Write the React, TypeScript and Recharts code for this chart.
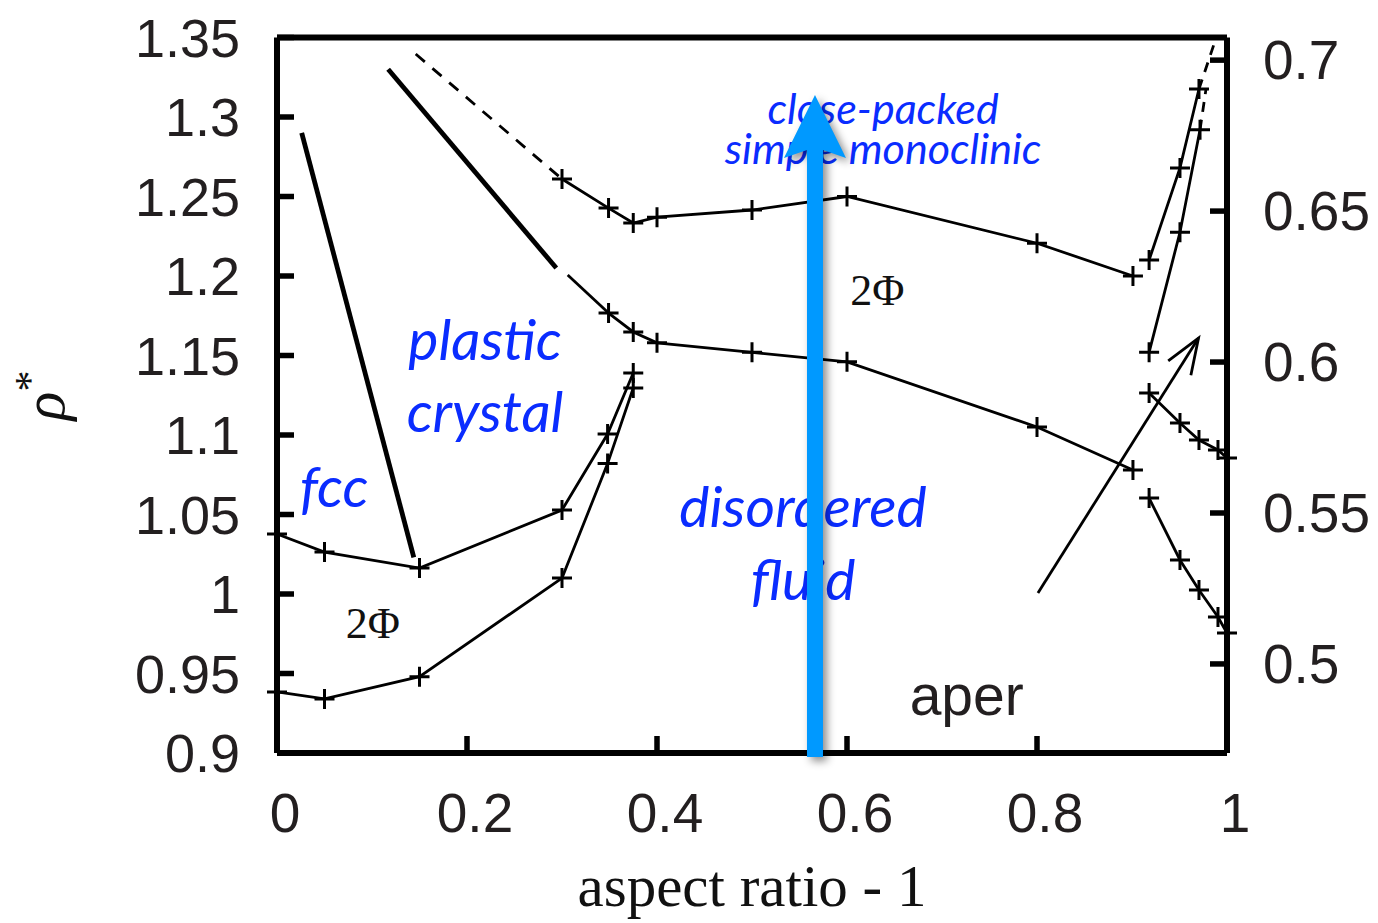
import React from 'react';
import { ComposedChart, Line, XAxis, YAxis, ReferenceLine, ReferenceDot } from 'recharts';

type Pt = { x: number; y: number };

// x = aspect ratio - 1, y = reduced density rho*
const xTicks = [0, 0.2, 0.4, 0.6, 0.8, 1];
const yTicks = [0.9, 0.95, 1, 1.05, 1.1, 1.15, 1.2, 1.25, 1.3, 1.35];
const phiTicks = [0.5, 0.55, 0.6, 0.65, 0.7];

// thick boundaries without symbols
const fccPlastic: Pt[] = [{ x: 0.026, y: 1.29 }, { x: 0.144, y: 1.023 }];
const plasticSolid: Pt[] = [{ x: 0.117, y: 1.33 }, { x: 0.294, y: 1.205 }];
const plasticTail: Pt[] = [{ x: 0.306, y: 1.2006 }, { x: 0.349, y: 1.1767 }];
const closePackedDash: Pt[] = [{ x: 0.146, y: 1.3396 }, { x: 0.3, y: 1.261 }];

// coexistence curves with + symbols
const solidUpper: Pt[] = [
  { x: 0.3, y: 1.261 }, { x: 0.349, y: 1.2427 }, { x: 0.375, y: 1.2333 }, { x: 0.4, y: 1.237 },
  { x: 0.5, y: 1.2415 }, { x: 0.6, y: 1.25 }, { x: 0.8, y: 1.2206 }, { x: 0.901, y: 1.2 },
];
const fluidUpper: Pt[] = [
  { x: 0.349, y: 1.1767 }, { x: 0.375, y: 1.1648 }, { x: 0.4, y: 1.158 }, { x: 0.5, y: 1.152 },
  { x: 0.6, y: 1.146 }, { x: 0.8, y: 1.105 }, { x: 0.901, y: 1.078 },
];
const fccSolid: Pt[] = [
  { x: 0, y: 1.0377 }, { x: 0.05, y: 1.0264 }, { x: 0.15, y: 1.0163 }, { x: 0.3, y: 1.0528 },
  { x: 0.348, y: 1.1006 }, { x: 0.375, y: 1.139 },
];
const fccFluid: Pt[] = [
  { x: 0, y: 0.9384 }, { x: 0.05, y: 0.934 }, { x: 0.15, y: 0.948 }, { x: 0.3, y: 1.01 },
  { x: 0.348, y: 1.082 }, { x: 0.375, y: 1.1296 },
];
const rightSolidA: Pt[] = [{ x: 0.918, y: 1.21 }, { x: 0.9505, y: 1.268 }, { x: 0.9705, y: 1.3176 }];
const rightSolidB: Pt[] = [{ x: 0.918, y: 1.152 }, { x: 0.9505, y: 1.2275 }, { x: 0.9716, y: 1.292 }];
const rightDashA: Pt[] = [{ x: 0.9705, y: 1.3176 }, { x: 0.987, y: 1.347 }];
const rightDashB: Pt[] = [{ x: 0.9716, y: 1.292 }, { x: 0.978, y: 1.318 }];
const rightMid: Pt[] = [
  { x: 0.918, y: 1.1264 }, { x: 0.9505, y: 1.1075 }, { x: 0.9705, y: 1.0968 }, { x: 0.9905, y: 1.0906 }, { x: 1, y: 1.0855 },
];
const rightLow: Pt[] = [
  { x: 0.918, y: 1.0603 }, { x: 0.9505, y: 1.0214 }, { x: 0.9705, y: 1.0025 }, { x: 0.9905, y: 0.9855 }, { x: 1, y: 0.9755 },
];

const blackArrow: Pt[] = [{ x: 0.801, y: 1.0006 }, { x: 0.97, y: 1.161 }];
const blueArrow: Pt[] = [{ x: 0.5663, y: 0.9 }, { x: 0.5663, y: 1.3138 }];

// phase names, each entry may hold several lines
const blueLabels = [
  { x: 0.638, y: 1.3065, lines: ['close-packed', 'simple monoclinic'], size: 43 },
  { x: 0.219, y: 1.161, lines: ['plastic'], size: 57 },
  { x: 0.219, y: 1.1157, lines: ['crystal'], size: 57 },
  { x: 0.06, y: 1.0685, lines: ['fcc'], size: 57 },
  { x: 0.5537, y: 1.056, lines: ['disordered'], size: 57 },
  { x: 0.5537, y: 1.01, lines: ['fluid'], size: 57 },
];
const phiLabels = [
  { x: 0.101, y: 0.982 },
  { x: 0.632, y: 1.191 },
];

const tickFont = "'Liberation Sans', Arial, sans-serif";
const tickColor = '#231f20';
const serif = "'Liberation Serif', 'Times New Roman', serif";
const thin = 2.8;

const Plus = (props: any) => {
  const { cx, cy } = props;
  if (cx == null || cy == null) return null;
  return <path d={`M${cx - 10},${cy}h20M${cx},${cy - 10}v20`} stroke="#000" strokeWidth={3} fill="none" />;
};

const LeftTick = ({ x, y, payload }: any) => (
  <g>
    <line x1={x} x2={x + 17} y1={y} y2={y} stroke="#000" strokeWidth={5.5} />
    <text x={x - 37} y={y + 19} textAnchor="end" fontFamily={tickFont} fontSize={54} fill={tickColor}>
      {String(payload.value)}
    </text>
  </g>
);

const RightTick = ({ x, y, payload }: any) => (
  <g>
    <line x1={x} x2={x - 17} y1={y} y2={y} stroke="#000" strokeWidth={5.5} />
    <text x={x + 36} y={y + 19} textAnchor="start" fontFamily={tickFont} fontSize={55} fill={tickColor}>
      {String(payload.value)}
    </text>
  </g>
);

const BottomTick = ({ x, y, payload }: any) => (
  <g>
    <line x1={x} x2={x} y1={y} y2={y - 17} stroke="#000" strokeWidth={5.5} />
    <text x={x + 8} y={y + 79} textAnchor="middle" fontFamily={tickFont} fontSize={55} fill={tickColor}>
      {String(payload.value)}
    </text>
  </g>
);

const TopTick = ({ x, y }: any) => <line x1={x} x2={x} y1={y} y2={y + 17} stroke="#000" strokeWidth={5.5} />;

const BlackArrowShape = (props: any) => {
  const { x1, y1, x2, y2 } = props;
  const a = Math.atan2(y2 - y1, x2 - x1);
  const len = 38;
  const spread = 0.36;
  const hx1 = x2 - len * Math.cos(a - spread);
  const hy1 = y2 - len * Math.sin(a - spread);
  const hx2 = x2 - len * Math.cos(a + spread);
  const hy2 = y2 - len * Math.sin(a + spread);
  return (
    <g stroke="#000" strokeWidth={thin} fill="none">
      <line x1={x1} y1={y1} x2={x2} y2={y2} />
      <polyline points={`${hx1},${hy1} ${x2},${y2} ${hx2},${hy2}`} />
    </g>
  );
};

const BlueArrowShape = (props: any) => {
  const { x1, y1, x2, y2 } = props;
  const cx = (x1 + x2) / 2;
  const top = Math.min(y1, y2);
  const bottom = Math.max(y1, y2);
  const headH = 63;
  const headW = 31;
  return (
    <g style={{ filter: 'drop-shadow(4px 4px 4px rgba(0,0,0,0.45))' }}>
      <rect x={cx - 8} y={top + headH - 10} width={16} height={bottom - top - headH + 14} fill="#0099ff" />
      <polygon
        points={`${cx},${top} ${cx + headW},${top + headH} ${cx + 8},${top + headH - 8} ${cx - 8},${top + headH - 8} ${cx - headW},${top + headH}`}
        fill="#0099ff"
      />
    </g>
  );
};

const textAt = (lines: string[], size: number, color: string, family: string, italic: boolean) => (props: any) =>
  (
    <text
      x={props.cx}
      y={props.cy}
      textAnchor="middle"
      dominantBaseline="central"
      fontFamily={family}
      fontStyle={italic ? 'italic' : 'normal'}
      fontSize={size}
      fill={color}
    >
      {lines.map((t, i) => (
        <tspan key={t} x={props.cx} dy={i === 0 ? 0 : size * 0.93}>
          {t}
        </tspan>
      ))}
    </text>
  );

const App: React.FC = () => (
  <div style={{ position: 'absolute', left: 0, top: 0, width: 1378, height: 923, background: '#fff' }}>
    <ComposedChart width={1378} height={923} margin={{ top: 0, right: 0, bottom: 0, left: 0 }}>
      <XAxis
        dataKey="x"
        type="number"
        domain={[0, 1]}
        ticks={xTicks}
        height={170}
        tickSize={0}
        tickMargin={0}
        axisLine={{ stroke: '#000', strokeWidth: 6 }}
        tick={<BottomTick />}
        interval={0}
        label={{
          content: (p: any) => {
            const vb = p.viewBox || {};
            return (
              <text x={vb.x + vb.width / 2} y={vb.y + 153} textAnchor="middle" fontFamily={serif} fontSize={59} fill="#111">
                aspect ratio - 1
              </text>
            );
          },
        }}
      />
      <XAxis
        xAxisId="top"
        orientation="top"
        type="number"
        domain={[0, 1]}
        ticks={[0.2, 0.4, 0.6, 0.8]}
        height={37.5}
        tickSize={0}
        tickMargin={0}
        axisLine={{ stroke: '#000', strokeWidth: 6 }}
        tick={<TopTick />}
        interval={0}
      />
      <YAxis
        type="number"
        domain={[0.9, 1.35]}
        ticks={yTicks}
        width={277}
        tickSize={0}
        tickMargin={0}
        allowDataOverflow
        axisLine={{ stroke: '#000', strokeWidth: 6 }}
        tick={<LeftTick />}
        interval={0}
        label={{
          content: (p: any) => {
            const vb = p.viewBox || {};
            const cy = vb.y + 358;
            return (
              <text
                x={64}
                y={cy}
                transform={`rotate(-90, 64, ${cy})`}
                textAnchor="middle"
                fontFamily={serif}
                fontStyle="italic"
                fontSize={60}
                fill="#111"
              >
                ρ<tspan fontSize={42} dy={-20} fontStyle="normal">*</tspan>
              </text>
            );
          },
        }}
      />
      <YAxis
        yAxisId="right"
        orientation="right"
        type="number"
        domain={[0.4705, 0.7075]}
        ticks={phiTicks}
        width={151}
        tickSize={0}
        tickMargin={0}
        allowDataOverflow
        axisLine={{ stroke: '#000', strokeWidth: 6 }}
        tick={<RightTick />}
        interval={0}
      />

      {blueLabels.map((l) => (
        <ReferenceDot
          key={l.lines[0]}
          x={l.x}
          y={l.y}
          r={0}
          ifOverflow="visible"
          shape={textAt(l.lines, l.size, '#0a2cff', "Lato, 'Open Sans', sans-serif", true)}
        />
      ))}
      {phiLabels.map((l, i) => (
        <ReferenceDot key={`phi-${i}`} x={l.x} y={l.y} r={0} ifOverflow="visible" shape={textAt(['2Φ'], 44, '#111', serif, false)} />
      ))}
      <ReferenceDot x={0.726} y={0.9365} r={0} ifOverflow="visible" shape={textAt(['aper'], 57, tickColor, tickFont, false)} />

      <Line data={fccPlastic} dataKey="y" stroke="#000" strokeWidth={4.8} dot={false} isAnimationActive={false} />
      <Line data={plasticSolid} dataKey="y" stroke="#000" strokeWidth={4.8} dot={false} isAnimationActive={false} />
      <Line data={plasticTail} dataKey="y" stroke="#000" strokeWidth={thin} dot={false} isAnimationActive={false} />
      <Line data={closePackedDash} dataKey="y" stroke="#000" strokeWidth={thin} strokeDasharray="12 10" dot={false} isAnimationActive={false} />
      <Line data={solidUpper} dataKey="y" stroke="#000" strokeWidth={thin} dot={<Plus />} isAnimationActive={false} />
      <Line data={fluidUpper} dataKey="y" stroke="#000" strokeWidth={thin} dot={<Plus />} isAnimationActive={false} />
      <Line data={fccSolid} dataKey="y" stroke="#000" strokeWidth={thin} dot={<Plus />} isAnimationActive={false} />
      <Line data={fccFluid} dataKey="y" stroke="#000" strokeWidth={thin} dot={<Plus />} isAnimationActive={false} />
      <Line data={rightSolidA} dataKey="y" stroke="#000" strokeWidth={thin} dot={<Plus />} isAnimationActive={false} />
      <Line data={rightSolidB} dataKey="y" stroke="#000" strokeWidth={thin} dot={<Plus />} isAnimationActive={false} />
      <Line data={rightDashA} dataKey="y" stroke="#000" strokeWidth={thin} strokeDasharray="10 8" dot={false} isAnimationActive={false} />
      <Line data={rightDashB} dataKey="y" stroke="#000" strokeWidth={thin} strokeDasharray="10 8" dot={false} isAnimationActive={false} />
      <Line data={rightMid} dataKey="y" stroke="#000" strokeWidth={thin} dot={<Plus />} isAnimationActive={false} />
      <Line data={rightLow} dataKey="y" stroke="#000" strokeWidth={thin} dot={<Plus />} isAnimationActive={false} />

      <ReferenceLine segment={blackArrow} ifOverflow="visible" shape={<BlackArrowShape />} />
      <ReferenceLine segment={blueArrow} ifOverflow="visible" shape={<BlueArrowShape />} zIndex={2000} />
    </ComposedChart>
  </div>
);

export default App;
